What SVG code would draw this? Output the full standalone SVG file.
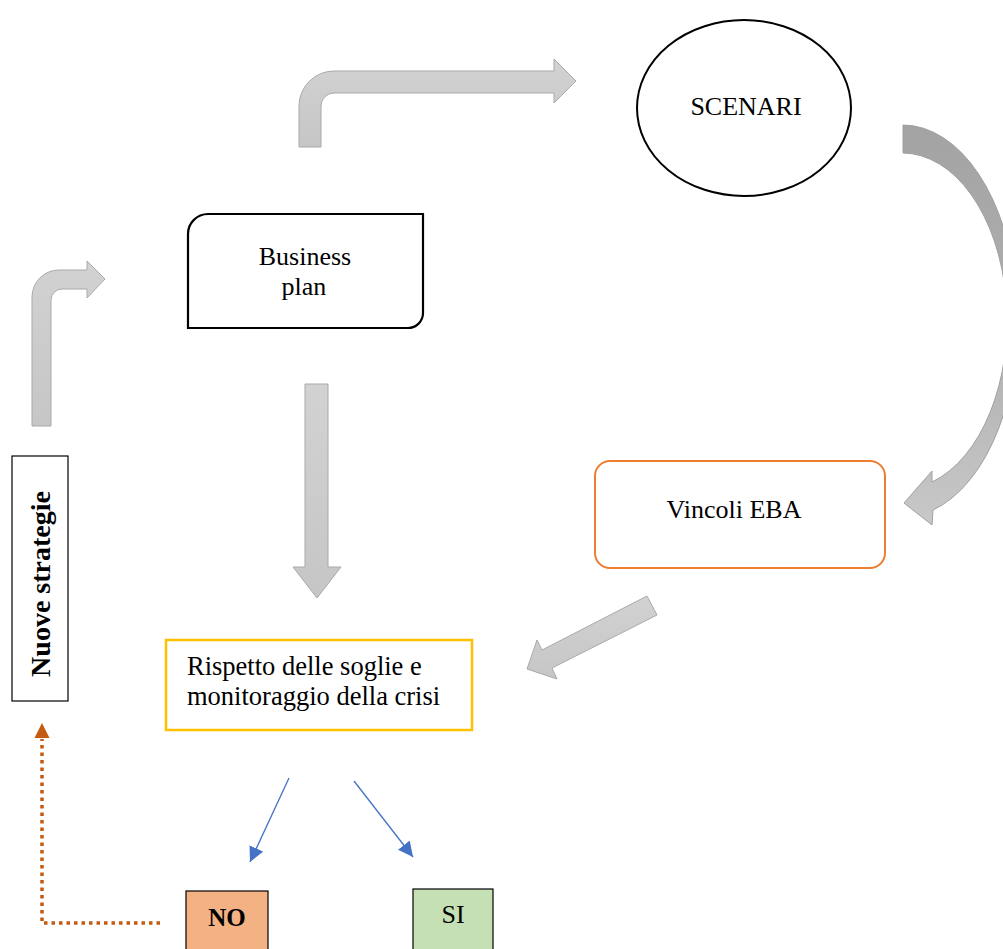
<svg xmlns="http://www.w3.org/2000/svg" width="1003" height="949" viewBox="0 0 1003 949">
<style>
.t{font-family:"Liberation Serif","Times New Roman",serif;font-size:26px;fill:#000}
.b{font-weight:bold}
.ga{fill:url(#gg);stroke:#A9A9A9;stroke-width:1}
.blue{stroke:#4472C4;stroke-width:1.3;fill:none}
</style>
<defs>
<linearGradient id="gg" x1="0" y1="0" x2="0" y2="1"><stop offset="0" stop-color="#D2D2D2"/><stop offset="1" stop-color="#C6C6C6"/></linearGradient>
<linearGradient id="gc" gradientUnits="userSpaceOnUse" x1="0" y1="125" x2="0" y2="525"><stop offset="0" stop-color="#A3A3A3"/><stop offset="0.5" stop-color="#AFAFAF"/><stop offset="1" stop-color="#C8C8C8"/></linearGradient>
<marker id="mb" viewBox="0 0 14 14" refX="14" refY="7" markerWidth="15" markerHeight="15" markerUnits="userSpaceOnUse" orient="auto"><path d="M0,0 L14,7 L0,14 Z" fill="#4472C4"/></marker>
</defs>
<rect width="1003" height="949" fill="#fff"/>
<g id="connectors">
<path id="bent-top" class="ga" d="M299,147 L299,106 A35,35 0 0 1 334,71 L554,71 L554,59 L576,81 L554,103 L554,93 L334,93 A13,13 0 0 0 321,106 L321,147 Z"/>
<path id="bent-left" class="ga" d="M32,426 L32,297 A27,27 0 0 1 59,270 L87,270 L87,261 L105,279 L87,298 L87,289 L62,289 A11,11 0 0 0 51,300 L51,426 Z"/>
<path id="curved" fill="url(#gc)" stroke="#A0A0A0" stroke-width="1" d="M903,125 A115,196 0 0 1 933,510 L932,525 L904,503 L932,471 L932,482 A105,168 0 0 0 903,153 Z"/>
<path id="down" class="ga" d="M305,384 L328,384 L328,567 L341,567 L317,598 L293,567 L305,567 Z"/>
<path id="diag" class="ga" d="M647,596 L657,615 L552,668 L557,679 L527,669 L537,640 L542,650 Z"/>
<line class="blue" x1="289" y1="778" x2="250" y2="862" marker-end="url(#mb)"/>
<line class="blue" x1="354" y1="781" x2="413" y2="857" marker-end="url(#mb)"/>
<path d="M160,923 L42,923 L42,739" fill="none" stroke="#C55A11" stroke-width="3.5" stroke-dasharray="3.5 4"/>
<path d="M42,723 L49.5,738 L34.5,738 Z" fill="#C55A11"/>
</g>
<g id="scenari">
<ellipse cx="744" cy="108" rx="107" ry="88" fill="#fff" stroke="#000" stroke-width="2"/>
<text class="t" x="746" y="115" text-anchor="middle">SCENARI</text>
</g>
<g id="business-plan">
<path d="M208,214 L423,214 L423,313 A15,15 0 0 1 408,328 L188,328 L188,234 A20,20 0 0 1 208,214 Z" fill="#fff" stroke="#000" stroke-width="2.2"/>
<text class="t" x="305" y="265" text-anchor="middle">Business</text>
<text class="t" x="304" y="295" text-anchor="middle">plan</text>
</g>
<g id="vincoli">
<rect x="595" y="461" width="290" height="107" rx="15" fill="#fff" stroke="#ED7D31" stroke-width="2"/>
<text class="t" x="734" y="518" text-anchor="middle">Vincoli EBA</text>
</g>
<g id="rispetto">
<rect x="166" y="640" width="306" height="90" fill="#fff" stroke="#FFC000" stroke-width="2.5"/>
<text class="t" x="187" y="675" style="font-size:26.5px">Rispetto delle soglie e</text>
<text class="t" x="187" y="705" style="font-size:26.5px">monitoraggio della crisi</text>
</g>
<g id="nuove-strategie">
<rect x="12" y="456" width="56" height="245" fill="#fff" stroke="#000" stroke-width="1.2"/>
<text class="t b" transform="translate(50,584) rotate(-90)" text-anchor="middle" style="font-size:28px">Nuove strategie</text>
</g>
<g id="no">
<rect x="186" y="891" width="82" height="70" fill="#F4B183" stroke="#000" stroke-width="1.2"/>
<text class="t b" x="227" y="926" text-anchor="middle" style="font-size:25px">NO</text>
</g>
<g id="si">
<rect x="413" y="889" width="80" height="70" fill="#C5E0B4" stroke="#000" stroke-width="1.2"/>
<text class="t" x="453" y="923" text-anchor="middle">SI</text>
</g>
</svg>
